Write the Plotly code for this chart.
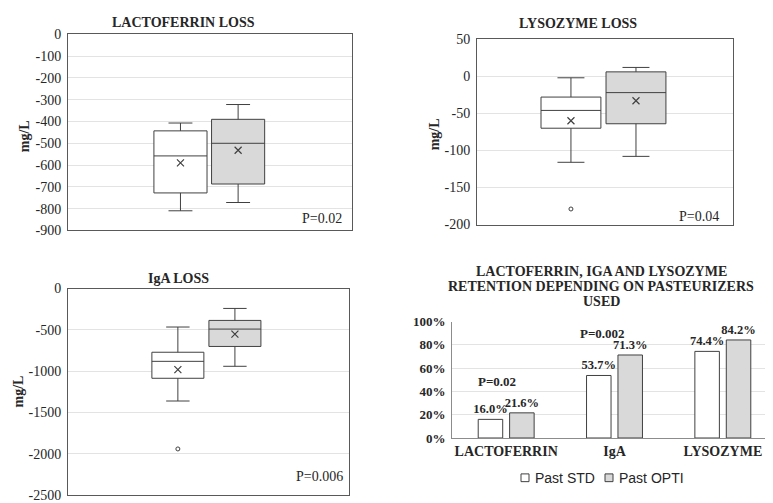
import plotly.graph_objects as go

W, H = 773, 503

# ---------------- data ----------------
groups = ["Past STD", "Past OPTI"]

# Lactoferrin loss (mg/L): [STD, OPTI]
lf_lower = [-810, -772]
lf_q1 = [-728, -687]
lf_median = [-558, -500]
lf_q3 = [-443, -390]
lf_upper = [-407, -322]
lf_mean = [-590, -532]
lf_outliers = [[], []]
lf_ticks = [0, -100, -200, -300, -400, -500, -600, -700, -800, -900]

# Lysozyme loss (mg/L)
lz_lower = [-116, -108]
lz_q1 = [-70, -64]
lz_median = [-46, -22]
lz_q3 = [-28, 6]
lz_upper = [-2, 12]
lz_mean = [-60, -33]
lz_outliers = [[-179], []]
lz_ticks = [50, 0, -50, -100, -150, -200]

# IgA loss (mg/L)
iga_lower = [-1360, -940]
iga_q1 = [-1085, -700]
iga_median = [-880, -490]
iga_q3 = [-770, -385]
iga_upper = [-465, -240]
iga_mean = [-980, -550]
iga_outliers = [[-1940], []]
iga_ticks = [0, -500, -1000, -1500, -2000, -2500]

# Retention (fraction)
ret_categories = ["LACTOFERRIN", "IgA", "LYSOZYME"]
ret_std = [0.160, 0.537, 0.744]
ret_opti = [0.216, 0.713, 0.842]
ret_pvalues = ["P=0.02", "P=0.002", "P=0.06"]
ret_pvalue_y = [0.483, 0.90, 1.075]
ret_ticks = [0, 0.2, 0.4, 0.6, 0.8, 1.0]
ret_ticklabels = ["0%", "20%", "40%", "60%", "80%", "100%"]

# ---------------- styling ----------------
SERIF = "Liberation Serif"
SANS = "Liberation Sans"
EDGE = "#404040"
FRAME = "#595959"
GRID = "#e3e3e3"
FILLS = ["#ffffff", "#d9d9d9"]
TXT = "#262626"


def px_x(p):
    return p / W


def px_y(p):
    return 1 - p / H


fig = go.Figure()

panels = [
    dict(stats=(lf_lower, lf_q1, lf_median, lf_q3, lf_upper, lf_mean, lf_outliers),
         ticks=lf_ticks, xa="x", ya="y", xd=(60, 344), yd=(20, 222), yr=(-900, 0),
         pos=(0.396, 0.599), bw=0.187),
    dict(stats=(lz_lower, lz_q1, lz_median, lz_q3, lz_upper, lz_mean, lz_outliers),
         ticks=lz_ticks, xa="x2", ya="y2", xd=(469, 725), yd=(25, 216), yr=(-200, 50),
         pos=(0.367, 0.621), bw=0.234),
    dict(stats=(iga_lower, iga_q1, iga_median, iga_q3, iga_upper, iga_mean, iga_outliers),
         ticks=iga_ticks, xa="x3", ya="y3", xd=(60, 341), yd=(282, 495), yr=(-2500, 0),
         pos=(0.391, 0.594), bw=0.185),
]

layout_axes = {}
for i, p in enumerate(panels):
    lo, q1, md, q3, up, mn, outl = p["stats"]
    for g in range(2):
        fig.add_trace(go.Box(
            x=[p["pos"][g]], lowerfence=[lo[g]], q1=[q1[g]], median=[md[g]],
            q3=[q3[g]], upperfence=[up[g]], width=p["bw"],
            fillcolor=FILLS[g], line=dict(color=EDGE, width=1),
            whiskerwidth=0.45, showlegend=False, name=groups[g],
            xaxis=p["xa"], yaxis=p["ya"], boxpoints=False))
        fig.add_trace(go.Scatter(
            x=[p["pos"][g]], y=[mn[g]], mode="markers",
            marker=dict(symbol="x-thin-open", size=7, color=EDGE,
                        line=dict(color=EDGE, width=1.2)),
            showlegend=False, xaxis=p["xa"], yaxis=p["ya"]))
        if outl[g]:
            fig.add_trace(go.Scatter(
                x=[p["pos"][g]] * len(outl[g]), y=outl[g], mode="markers",
                marker=dict(symbol="circle-open", size=4, color=EDGE,
                            line=dict(color=EDGE, width=1)),
                showlegend=False, xaxis=p["xa"], yaxis=p["ya"]))
    xk = "xaxis" + ("" if i == 0 else str(i + 1))
    yk = "yaxis" + ("" if i == 0 else str(i + 1))
    layout_axes[xk] = dict(domain=[px_x(p["xd"][0]), px_x(p["xd"][1])], range=[0, 1],
                           showgrid=False, zeroline=False, showticklabels=False,
                           showline=True, mirror=True, linecolor=FRAME, linewidth=1,
                           anchor=p["ya"], fixedrange=True)
    layout_axes[yk] = dict(domain=[px_y(p["yd"][1]), px_y(p["yd"][0])], range=list(p["yr"]),
                           tickmode="array", tickvals=p["ticks"],
                           ticktext=[str(t) for t in p["ticks"]],
                           showgrid=True, gridcolor=GRID, zeroline=False,
                           showline=True, mirror=True, linecolor=FRAME, linewidth=1,
                           ticks="", ticklabelstandoff=3,
                           tickfont=dict(family=SERIF, size=14, color=TXT),
                           anchor=p["xa"])

# Bar chart
for vals, g in ((ret_std, 0), (ret_opti, 1)):
    fig.add_trace(go.Bar(x=ret_categories, y=vals, name=groups[g],
                         marker=dict(color=FILLS[g], line=dict(color=EDGE, width=1)),
                         texttemplate="<b>%{y:.1%}</b>", textposition="outside",
                         constraintext="none",
                         textfont=dict(family=SERIF, size=12.5, color=TXT),
                         cliponaxis=False, showlegend=False,
                         xaxis="x4", yaxis="y4"))

layout_axes["xaxis4"] = dict(domain=[px_x(444), px_x(769)], anchor="y4",
                             showline=True, linecolor="#8c8c8c", linewidth=1,
                             ticks="", tickfont=dict(family=SERIF, size=14, color=TXT),
                             tickmode="array", tickvals=ret_categories,
                             ticktext=[f"<b>{c}</b>" for c in ret_categories],
                             showgrid=False, fixedrange=True)
layout_axes["yaxis4"] = dict(domain=[px_y(436), px_y(316)], anchor="x4", range=[0, 1],
                             tickmode="array", tickvals=ret_ticks,
                             ticktext=[f"<b>{t}</b>" for t in ret_ticklabels],
                             showgrid=True, gridcolor=GRID,
                             zeroline=False, showline=True, linecolor="#8c8c8c",
                             ticks="", ticklabelstandoff=3,
                             tickfont=dict(family=SERIF, size=13, color=TXT))

annotations = []


def ann(text, x, y, size=13, bold=True, xanchor="center", angle=0, family=SERIF):
    annotations.append(dict(
        text=f"<b>{text}</b>" if bold else text, x=px_x(x), y=px_y(y),
        xref="paper", yref="paper", xanchor=xanchor, yanchor="middle",
        showarrow=False, textangle=angle,
        font=dict(family=family, size=size, color=TXT)))


# panel titles
ann("LACTOFERRIN LOSS", 175, 8, size=14)
ann("LYSOZYME LOSS", 570, 9, size=14)
ann("IgA LOSS", 170, 272, size=14)
ann("LACTOFERRIN, IGA AND LYSOZYME", 593, 264, size=14)
ann("RETENTION DEPENDING ON PASTEURIZERS", 593, 280, size=14)
ann("USED", 593, 295, size=14)

# y titles
ann("mg/L", 16, 125, size=14, angle=-90)
ann("mg/L", 426, 123, size=14, angle=-90)
ann("mg/L", 10, 388, size=14, angle=-90)

# P-values in box panels
ann("P=0.02", 336, 210, size=14, bold=False, xanchor="right")
ann("P=0.04", 713, 208, size=14, bold=False, xanchor="right")
ann("P=0.006", 337, 476, size=14, bold=False, xanchor="right")

# P-values on bar chart (data coordinates)
for cat, txt, yy, sh in zip(ret_categories, ret_pvalues, ret_pvalue_y, (-9, -12, -25)):
    annotations.append(dict(text=f"<b>{txt}</b>", x=cat, y=yy, xref="x4", yref="y4",
                            xshift=sh, showarrow=False,
                            font=dict(family=SERIF, size=13, color=TXT)))

# manual legend (Excel style: small square + label)
shapes = []
for g, (sx, tx) in enumerate(((513, 525), (597, 609))):
    shapes.append(dict(type="rect", xref="paper", yref="paper",
                       x0=px_x(sx), x1=px_x(sx + 8), y0=px_y(481), y1=px_y(473),
                       fillcolor=FILLS[g], line=dict(color=EDGE, width=1)))
    annotations.append(dict(text=groups[g], x=px_x(tx), y=px_y(477), xref="paper",
                            yref="paper", xanchor="left", yanchor="middle",
                            showarrow=False,
                            font=dict(family=SANS, size=14, color=TXT)))

fig.update_layout(
    width=W, height=H, margin=dict(l=0, r=0, t=0, b=0),
    paper_bgcolor="white", plot_bgcolor="white",
    boxmode="overlay", barmode="group", bargap=0.42, bargroupgap=0.22,
    showlegend=False,
    annotations=annotations, shapes=shapes,
    **layout_axes,
)

fig.write_html("out.html")
